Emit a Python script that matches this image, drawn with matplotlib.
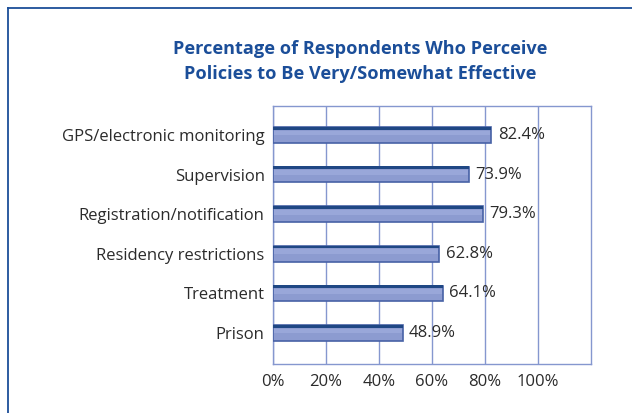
import matplotlib
matplotlib.use("Agg")
import matplotlib.pyplot as plt
from matplotlib.lines import Line2D

categories = ["GPS/electronic monitoring", "Supervision", "Registration/notification",
              "Residency restrictions", "Treatment", "Prison"]
values = [82.4, 73.9, 79.3, 62.8, 64.1, 48.9]
ticks = [0, 20, 40, 60, 80, 100]

grid_col = "#8597cf"
title_col = "#1b4e99"
txt_col = "#2b2b2b"

fig = plt.figure(figsize=(6.32, 4.13), dpi=100)
# axes placement in pixels: left 273, right 591, top 106, bottom 364
W, H = 632, 413
ax = fig.add_axes([273 / W, (H - 364) / H, (591 - 273) / W, (364 - 106) / H])

y = list(range(len(categories)))
ax.barh(y, values, height=0.4, color="#8c9bd0", edgecolor="#4862a6", linewidth=1.2, zorder=3)
# dark top edge and a soft highlight to mimic the shaded bars
ax.barh([yi - 0.17 for yi in y], values, height=0.07, color="#1f4784", linewidth=0, zorder=4)
ax.barh([yi - 0.05 for yi in y], [v - 0.8 for v in values], left=0.4, height=0.12,
        color="#99a7d9", linewidth=0, zorder=4)

for yi, v in zip(y, values):
    ax.text(v + 2.4, yi, f"{v}%", va="center", ha="left", fontsize=12,
            color=txt_col, family="Open Sans", zorder=5)

ax.set_xlim(0, 120)
ax.set_ylim(5.78, -0.73)
ax.set_xticks(ticks)
ax.set_xticklabels([f"{t}%" for t in ticks], family="Open Sans", fontsize=12, color=txt_col)
ax.set_yticks(y)
ax.set_yticklabels(categories, family="Open Sans", fontsize=12, color=txt_col)
ax.tick_params(axis="y", length=0, pad=6)
ax.tick_params(axis="x", length=0, pad=7)
ax.xaxis.grid(True, color=grid_col, linewidth=1, zorder=0)
for s in ax.spines.values():
    s.set_color(grid_col)
    s.set_linewidth(1)

fig.text(360 / W, 1 - 49 / H, "Percentage of Respondents Who Perceive", ha="center", va="center",
         fontsize=13.1, fontweight="bold", color=title_col, family="Open Sans")
fig.text(360 / W, 1 - 74 / H, "Policies to Be Very/Somewhat Effective", ha="center", va="center",
         fontsize=13.1, fontweight="bold", color=title_col, family="Open Sans")

# outer frame (top and left edge)
fig.add_artist(Line2D([8 / W, 1], [1 - 8 / H, 1 - 8 / H], color=title_col, linewidth=1.3))
fig.add_artist(Line2D([8 / W, 8 / W], [0, 1 - 8 / H], color=title_col, linewidth=1.3))

fig.savefig("out.png", dpi=100)
